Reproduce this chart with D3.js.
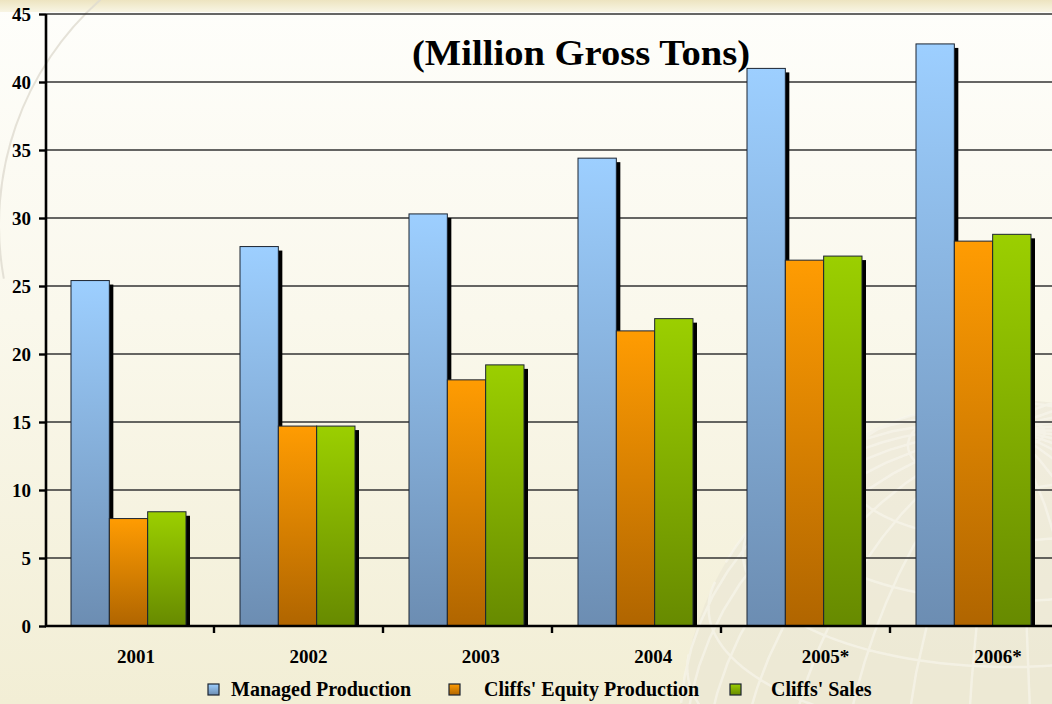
<!DOCTYPE html>
<html>
<head>
<meta charset="utf-8">
<script src="https://cdn.jsdelivr.net/npm/d3@7/dist/d3.min.js"></script>
<style>
  html, body { margin: 0; padding: 0; background: #f5f2df; overflow: hidden; }
  svg { display: block; }
  text { font-family: "Liberation Serif", "Times New Roman", serif; font-weight: bold; fill: #000; }
</style>
</head>
<body>
<svg id="chart" width="1052" height="704"></svg>
<script>
// Iron ore volumes by year (million gross tons)
const years = ["2001", "2002", "2003", "2004", "2005*", "2006*"];
const seriesNames = ["Managed Production", "Cliffs' Equity Production", "Cliffs' Sales"];
const managedProduction = [25.4, 27.9, 30.3, 34.4, 41.0, 42.8];
const equityProduction  = [7.9, 14.7, 18.1, 21.7, 26.9, 28.3];
const cliffsSales       = [8.4, 14.7, 19.2, 22.6, 27.2, 28.8];
const yTicks = [0, 5, 10, 15, 20, 25, 30, 35, 40, 45];
const titleText = "(Million Gross Tons)";

const seriesValues = [managedProduction, equityProduction, cliffsSales];
const seriesColors = [
  { top: "#9dcfff", bottom: "#6c8db2" },
  { top: "#ff9c02", bottom: "#b06500" },
  { top: "#9bcf00", bottom: "#678a00" }
];

const W = 1052, H = 704;
const plot = { left: 46, top: 14, bottom: 626, right: W };

const svg = d3.select("#chart");
const defs = svg.append("defs");

// ---- background ----
const bg = defs.append("linearGradient").attr("id", "bgGrad")
  .attr("x1", 0).attr("y1", 0).attr("x2", 0).attr("y2", 1);
bg.append("stop").attr("offset", "0%").attr("stop-color", "#fefefb");
bg.append("stop").attr("offset", "45%").attr("stop-color", "#faf8ec");
bg.append("stop").attr("offset", "100%").attr("stop-color", "#f2eed5");
svg.append("rect").attr("width", W).attr("height", H).attr("fill", "url(#bgGrad)");

const band = defs.append("linearGradient").attr("id", "bandGrad")
  .attr("x1", 0).attr("y1", 0).attr("x2", 0).attr("y2", 1);
band.append("stop").attr("offset", "0%").attr("stop-color", "#ede4c0");
band.append("stop").attr("offset", "100%").attr("stop-color", "#f8f5e4");
svg.append("rect").attr("width", W).attr("height", 12).attr("fill", "url(#bandGrad)");

// faint decorative arc and globe
const deco = svg.append("g").attr("fill", "none");
deco.append("path")
  .attr("d", d3.arc()({ innerRadius: 300, outerRadius: 302, startAngle: -1.75, endAngle: -0.72 }))
  .attr("transform", "translate(300,225)")
  .attr("fill", "#dedbd0").attr("opacity", 0.8);

const globe = d3.geoOrthographic().rotate([-20, -25]).scale(330).translate([1010, 730]);
const gPath = d3.geoPath(globe);
deco.append("path").datum({ type: "Sphere" }).attr("d", gPath)
  .attr("fill", "#e6e2d2").attr("opacity", 0.45);
deco.append("path").datum(d3.geoGraticule().step([12, 12])()).attr("d", gPath)
  .attr("stroke", "#f8f6ee").attr("stroke-width", 2.5).attr("opacity", 0.6);

// ---- scales ----
const x = d3.scaleBand().domain(years).range([45, 45 + 6 * 169]).padding(0);
const xs = d3.scaleBand().domain(seriesNames).range([26, 141]).padding(0);
const y = d3.scaleLinear().domain([0, 45]).range([plot.bottom, plot.top]);
const xLabel = d3.scalePoint().domain(years).range([136, 998]);

// ---- gridlines ----
svg.append("g").selectAll("line").data(yTicks.filter(t => t > 0)).join("line")
  .attr("x1", plot.left).attr("x2", plot.right)
  .attr("y1", d => y(d)).attr("y2", d => y(d))
  .attr("stroke", "#333").attr("stroke-width", 1.5);

// ---- bar gradients ----
seriesColors.forEach((c, i) => {
  const g = defs.append("linearGradient").attr("id", "barGrad" + i)
    .attr("x1", 0).attr("y1", 0).attr("x2", 0).attr("y2", 1);
  g.append("stop").attr("offset", "0%").attr("stop-color", c.top);
  g.append("stop").attr("offset", "100%").attr("stop-color", c.bottom);
});

// ---- bars with drop shadows ----
const bars = svg.append("g");
years.forEach((yr, ci) => {
  const grp = bars.append("g").attr("transform", `translate(${x(yr)},0)`);
  seriesNames.forEach((s, si) => {
    const v = seriesValues[si][ci];
    const bx = xs(s), bw = xs.bandwidth();
    const top = y(v), h = y(0) - y(v);
    grp.append("rect")
      .attr("x", bx + 4).attr("y", top + 4)
      .attr("width", bw).attr("height", Math.max(0, h - 4))
      .attr("fill", "#000");
    grp.append("rect")
      .attr("x", bx).attr("y", top)
      .attr("width", bw).attr("height", h)
      .attr("fill", `url(#barGrad${si})`)
      .attr("stroke", "#1c2430").attr("stroke-width", 1);
  });
});

// ---- axes ----
const yAxis = d3.axisLeft(y).tickValues(yTicks).tickSize(7).tickFormat(d3.format("d")).tickPadding(8);
const yg = svg.append("g").attr("transform", `translate(${plot.left},0)`).call(yAxis);
yg.attr("font-size", null).attr("font-family", null);
yg.select(".domain").attr("stroke", "#000").attr("stroke-width", 2.6)
  .attr("d", `M0,${plot.top}V${plot.bottom + 1}`);
yg.selectAll(".tick line").attr("stroke", "#000").attr("stroke-width", 2.4);
yg.selectAll(".tick text").style("font-size", "19px").attr("fill", "#000");

const xg = svg.append("g").attr("transform", `translate(0,${plot.bottom})`);
xg.append("line").attr("x1", plot.left - 1).attr("x2", plot.right)
  .attr("stroke", "#000").attr("stroke-width", 2.6);
xg.selectAll("line.tk").data(years.slice(1)).join("line").attr("class", "tk")
  .attr("x1", d => x(d)).attr("x2", d => x(d)).attr("y1", 0).attr("y2", 7)
  .attr("stroke", "#000").attr("stroke-width", 2.4);
svg.append("g").selectAll("text").data(years).join("text")
  .attr("x", d => xLabel(d)).attr("y", 663)
  .attr("text-anchor", "middle").style("font-size", "19px")
  .text(d => d);

// ---- title ----
svg.append("text").attr("x", 412).attr("y", 65)
  .style("font-size", "36px")
  .attr("textLength", 338).attr("lengthAdjust", "spacingAndGlyphs")
  .text(titleText);

// ---- legend ----
const legendLayout = [
  { sx: 208, tx: 231 },
  { sx: 449, tx: 484 },
  { sx: 730, tx: 771 }
];
const lg = svg.append("g");
seriesNames.forEach((s, i) => {
  lg.append("rect").attr("x", legendLayout[i].sx).attr("y", 684)
    .attr("width", 11).attr("height", 11)
    .attr("fill", `url(#barGrad${i})`).attr("stroke", "#1c2430").attr("stroke-width", 1.2);
  lg.append("text").attr("x", legendLayout[i].tx).attr("y", 696)
    .style("font-size", "20px").text(s);
});
</script>
</body>
</html>
